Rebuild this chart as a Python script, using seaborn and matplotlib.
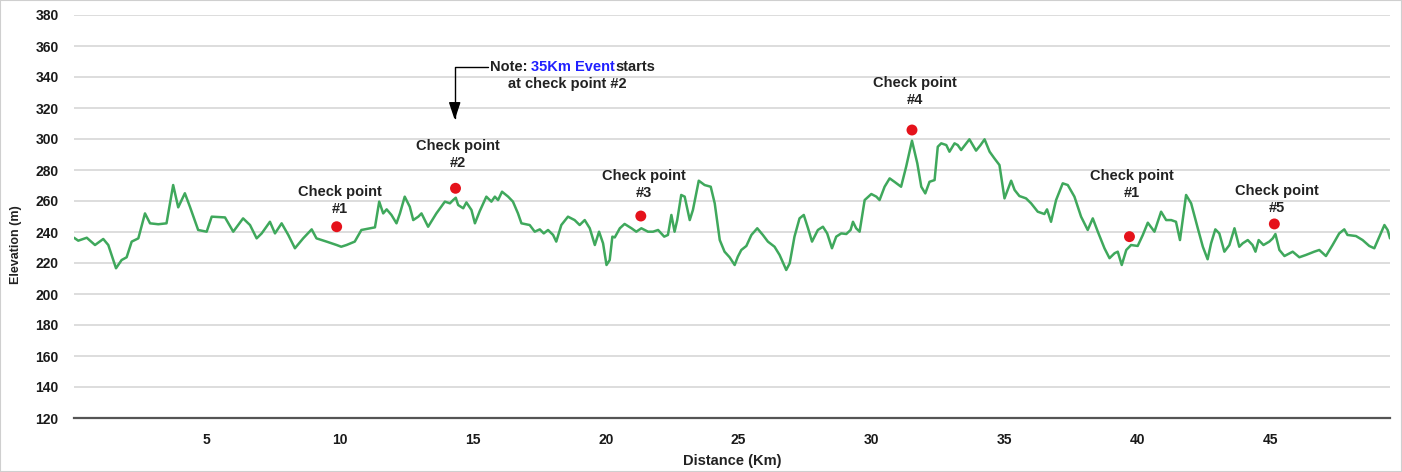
import numpy as np
import pandas as pd
import matplotlib
matplotlib.use("Agg")
import matplotlib.pyplot as plt
import seaborn as sns
from matplotlib.patches import Rectangle

# ---------------- data ----------------
distance_km = [
    0.0, 0.16, 0.48, 0.79, 1.1, 1.29, 1.58, 1.79, 1.98, 2.17, 2.42, 2.67, 2.86, 3.17,
    3.48, 3.73, 3.92, 4.17, 4.36, 4.67, 4.99, 5.18, 5.68, 5.99, 6.36, 6.62, 6.87, 7.06,
    7.37, 7.56, 7.81, 8.06, 8.31, 8.62, 8.94, 9.12, 9.5, 9.88, 10.05, 10.25, 10.56,
    10.81, 11.32, 11.48, 11.63, 11.76, 11.94, 12.13, 12.26, 12.44, 12.63, 12.76, 12.95,
    13.07, 13.32, 13.63, 13.95, 14.14, 14.26, 14.36, 14.45, 14.64, 14.76, 14.95, 15.08,
    15.26, 15.51, 15.7, 15.83, 15.95, 16.1, 16.33, 16.51, 16.7, 16.83, 17.14, 17.33,
    17.52, 17.67, 17.83, 18.02, 18.14, 18.33, 18.58, 18.83, 19.02, 19.21, 19.4, 19.59,
    19.75, 19.9, 20.03, 20.15, 20.25, 20.34, 20.53, 20.71, 20.97, 21.15, 21.34, 21.59,
    21.78, 21.97, 22.2, 22.34, 22.47, 22.59, 22.69, 22.84, 22.97, 23.16, 23.28, 23.5,
    23.72, 23.95, 24.1, 24.29, 24.47, 24.66, 24.85, 24.97, 25.1, 25.29, 25.48, 25.7,
    25.91, 26.1, 26.35, 26.54, 26.79, 26.92, 27.1, 27.29, 27.45, 27.61, 27.76, 27.98,
    28.17, 28.33, 28.51, 28.67, 28.86, 29.05, 29.21, 29.3, 29.42, 29.55, 29.74, 29.99,
    30.18, 30.3, 30.49, 30.68, 30.86, 31.11, 31.3, 31.52, 31.72, 31.87, 32.02, 32.18,
    32.37, 32.49, 32.62, 32.81, 32.93, 33.12, 33.24, 33.37, 33.68, 33.93, 34.1, 34.25,
    34.44, 34.62, 34.81, 35.0, 35.12, 35.25, 35.38, 35.56, 35.81, 36.0, 36.25, 36.5,
    36.6, 36.75, 36.94, 37.19, 37.38, 37.63, 37.88, 38.13, 38.32, 38.51, 38.76, 38.95,
    39.14, 39.26, 39.41, 39.58, 39.76, 40.01, 40.2, 40.39, 40.64, 40.89, 41.08, 41.27,
    41.45, 41.6, 41.83, 42.02, 42.27, 42.46, 42.64, 42.77, 42.93, 43.08, 43.27, 43.46,
    43.65, 43.83, 43.96, 44.15, 44.33, 44.44, 44.56, 44.74, 44.96, 45.09, 45.19, 45.34,
    45.53, 45.84, 46.09, 46.34, 46.65, 46.84, 47.09, 47.34, 47.59, 47.78, 47.9, 48.22,
    48.47, 48.72, 48.91, 49.1, 49.29, 49.41, 49.5,
]
elevation_m = [
    236.3, 234.4, 236.3, 231.6, 235.5, 231.6, 216.6, 221.9, 223.7, 233.8, 235.9, 252.0, 245.6, 245.0,
    245.6, 270.3, 255.9, 265.0, 256.3, 241.3, 240.2, 249.9, 249.4, 240.2, 248.8, 244.5, 235.9, 239.1,
    246.6, 239.1, 245.6, 238.1, 229.5, 235.9, 241.7, 235.9, 233.8, 231.6, 230.5, 231.6, 233.8,
    241.3, 243.0, 259.6, 252.0, 254.6, 251.0, 245.6, 252.0, 262.8, 256.3, 247.7, 249.9,
    252.0, 243.4, 252.0, 259.6, 258.5, 260.6, 262.1, 257.4, 255.3, 259.1, 254.2, 245.6,
    253.4, 262.8, 259.6, 262.8, 260.6, 266.0, 262.8, 259.6, 252.0, 245.6, 244.5, 240.2,
    241.7, 239.1, 241.3, 238.1, 233.8, 244.5, 249.9, 247.7, 244.5, 247.7, 242.4, 231.6,
    240.2, 232.7, 218.7, 221.9, 237.0, 236.5, 242.4, 245.2, 242.4, 240.2, 242.4, 240.2,
    240.2, 241.3, 237.0, 238.1, 251.0, 240.2, 247.7, 263.9, 262.8, 247.7, 254.2, 273.1,
    270.3, 269.2, 258.5, 234.8, 227.3, 223.7, 218.7, 224.1, 228.4, 231.0, 238.1, 242.4,
    238.1, 233.8, 230.5, 225.2, 215.5, 219.8, 237.0, 248.8, 251.0, 242.4, 233.8, 241.3,
    243.4, 239.1, 229.5, 237.0, 239.1, 238.7, 241.3, 246.6, 242.4, 240.2, 260.6, 264.5,
    262.8, 260.6, 269.2, 274.6, 272.4, 269.2, 282.1, 298.9, 284.3, 269.2, 264.9, 272.4,
    273.5, 295.0, 297.2, 296.1, 291.8, 297.2, 296.1, 292.9, 299.8, 292.5, 296.1, 299.8,
    291.8, 287.5, 283.2, 261.7, 267.1, 273.1, 267.1, 263.2, 261.7, 258.5, 253.1, 251.6,
    254.6, 246.6, 260.6, 271.4, 270.3, 262.8, 249.9, 241.3, 248.8, 240.2, 229.5, 223.1,
    226.3, 227.3, 218.7, 228.4, 231.6, 231.0, 238.0, 246.0, 240.2, 253.1, 247.7, 247.7,
    246.6, 234.8, 263.9, 258.5, 242.4, 230.5, 222.4, 232.7, 241.7, 239.1, 227.3, 231.6,
    242.4, 230.5, 232.7, 234.8, 231.6, 227.3, 234.8, 231.6, 233.8, 235.9, 238.7, 228.4,
    224.5, 227.3, 223.7, 225.2, 227.3, 228.4, 224.5, 231.6, 239.1, 241.7, 238.1, 237.4,
    234.8, 231.0, 229.5, 237.0, 244.5, 241.3, 235.9,
]

checkpoint_km = [9.88, 14.35, 21.32, 31.52, 39.7, 45.15]
checkpoint_elev = [243.4, 268.2, 250.3, 305.8, 237.0, 245.2]
checkpoint_labels = ["Check point\n#1", "Check point\n#2", "Check point\n#3",
                     "Check point\n#4", "Check point\n#1", "Check point\n#5"]

y_ticks = list(range(120, 381, 20))
x_ticks = [5, 10, 15, 20, 25, 30, 35, 40, 45]
x_max = 49.5

note_prefix = "Note: "
note_highlight = "35Km Event"
note_suffix = "starts"
note_line2 = "at check point #2"

# ---------------- layout / style ----------------
label_offsets_pt = [8, 13.5, 11.5, 16.5, 26.5, 6.5]
W, H = 1402, 472
FS = 10.5

sns.set_theme(style="white")
plt.rcParams['font.family'] = ['Liberation Sans', 'DejaVu Sans']

fig = plt.figure(figsize=(W / 100, H / 100), dpi=100)
ax = fig.add_axes([74 / W, 1 - 418 / H, (1390 - 74) / W, (418 - 15) / H])

df = pd.DataFrame({"km": distance_km, "elev": elevation_m})
sns.lineplot(data=df, x="km", y="elev", sort=False, color="#3fa85c",
             linewidth=1.8, ax=ax, zorder=3)
sns.scatterplot(x=checkpoint_km, y=checkpoint_elev, color="#e5121b", s=62,
                edgecolor="none", ax=ax, zorder=5, legend=False)

for x, y, lbl, off in zip(checkpoint_km, checkpoint_elev, checkpoint_labels, label_offsets_pt):
    ax.annotate(lbl, xy=(x, y), xytext=(2, off), textcoords="offset points",
                ha="center", va="bottom", fontsize=FS, fontweight="bold",
                color="#222222", linespacing=1.25, zorder=6)

# note with arrow
t1 = ax.text(15.64, 346.5, note_prefix, ha="left", va="center", fontsize=FS,
             fontweight="bold", color="#222222")
t2 = ax.annotate(note_highlight, xy=(1, 0), xycoords=t1, ha="left", va="bottom",
                 fontsize=FS, fontweight="bold", color="#2020ff")
ax.annotate(note_suffix, xy=(1, 0), xycoords=t2, ha="left", va="bottom",
            fontsize=FS, fontweight="bold", color="#222222")
ax.text(18.57, 335.5, note_line2, ha="center", va="center", fontsize=FS,
        fontweight="bold", color="#222222")
ax.annotate("", xy=(14.32, 312.3), xytext=(15.56, 346.5),
            arrowprops=dict(arrowstyle="-|>,head_length=0.9,head_width=0.3",
                            connectionstyle="angle,angleA=180,angleB=90,rad=0",
                            color="black", lw=1.0, shrinkA=0, shrinkB=0,
                            mutation_scale=12))

# axes
ax.set_xlim(0, x_max)
ax.set_ylim(120, 380)
ax.set_yticks(y_ticks)
ax.set_xticks(x_ticks)
ax.set_xticks([0, x_max], minor=True)
ax.grid(axis="y", color="#dadada", linewidth=1.3)
ax.grid(axis="x", visible=False)
ax.set_axisbelow(True)
for s in ["left", "top", "right"]:
    ax.spines[s].set_visible(False)
ax.spines["bottom"].set_color("#555555")
ax.spines["bottom"].set_linewidth(1.6)
ax.tick_params(axis="x", which="both", direction="out", length=5, width=1.2,
               color="#555555", pad=6, labelsize=10, labelcolor="#1a1a1a")
ax.tick_params(axis="y", length=0, pad=11, labelsize=10, labelcolor="#1a1a1a")
for lab in ax.get_xticklabels() + ax.get_yticklabels():
    lab.set_fontweight("bold")

ax.set_xlabel("Distance (Km)", fontsize=FS, fontweight="bold", color="#222222")
ax.xaxis.set_label_coords(0.5, -(454 - 418) / 403)
ax.set_ylabel("Elevation (m)", fontsize=9, fontweight="bold", color="#222222")
ax.yaxis.set_label_coords(-(74 - 22) / 1316, (418 - 245) / 403)

fig.patches.append(Rectangle((0, 0), 1, 1, transform=fig.transFigure, fill=False,
                             edgecolor="#cfcfcf", linewidth=1.5))

fig.savefig("out.png", dpi=100)
